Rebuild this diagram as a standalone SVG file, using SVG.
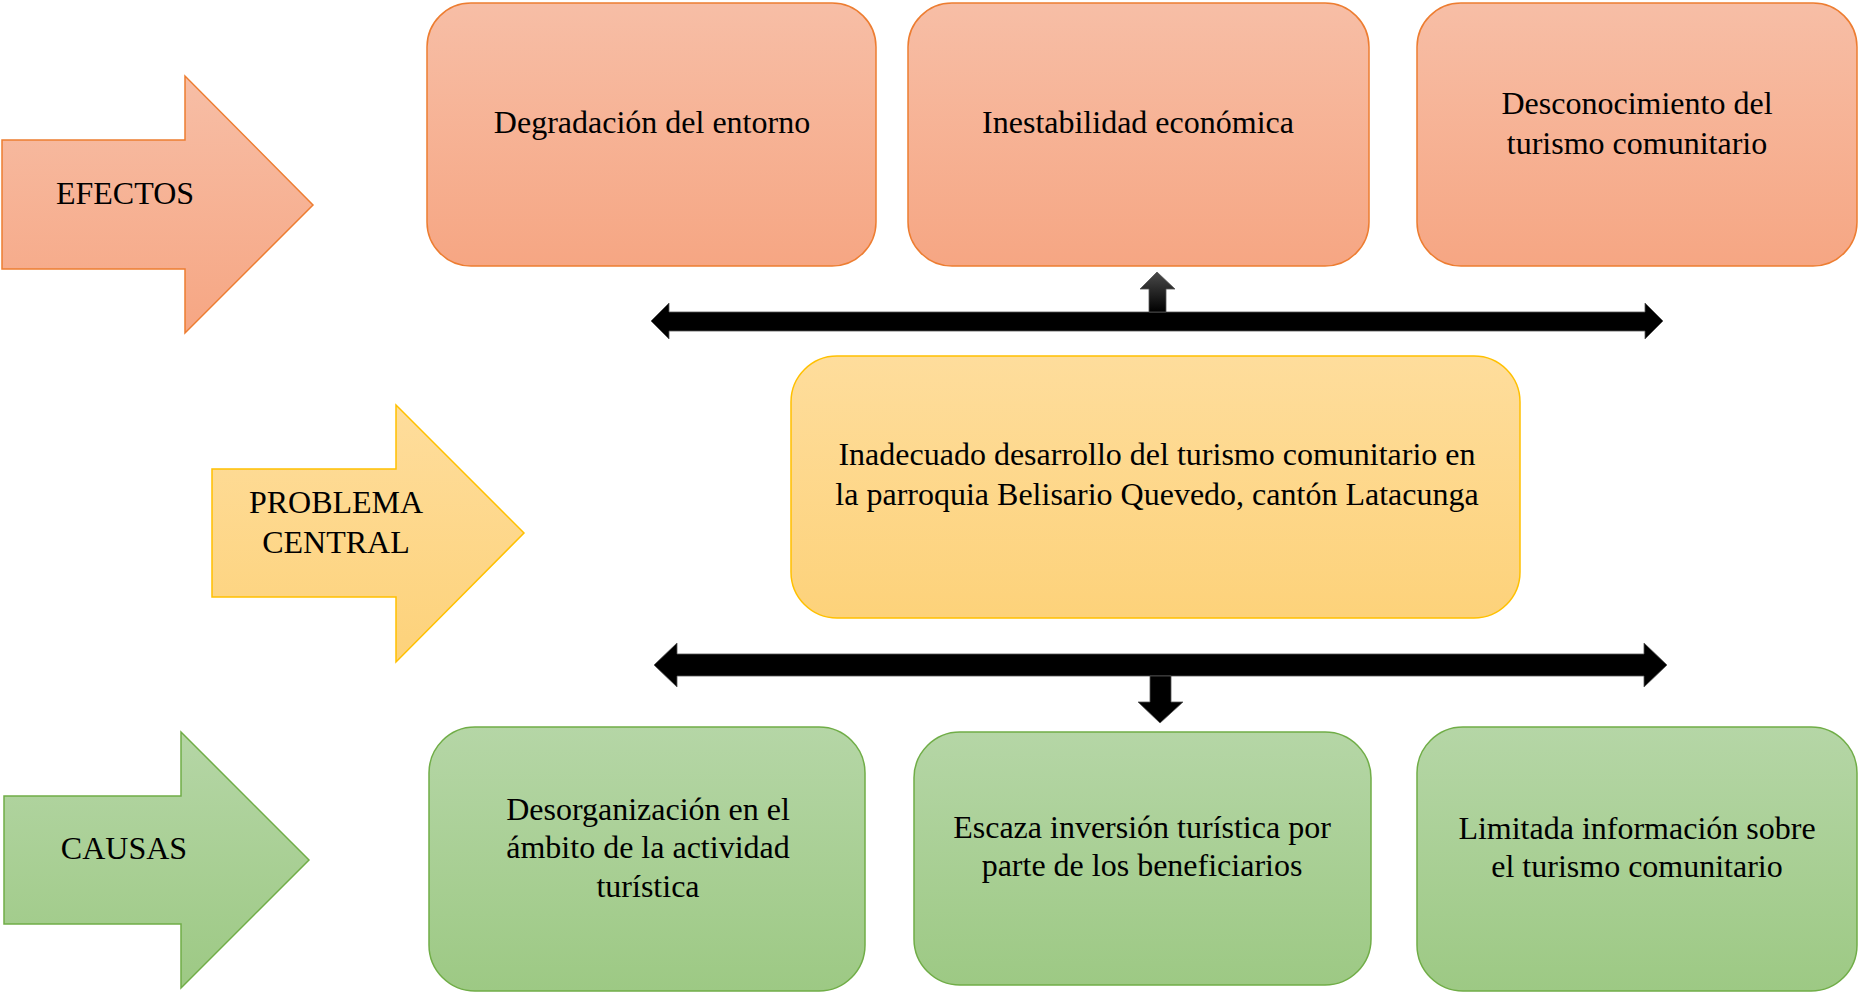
<svg xmlns="http://www.w3.org/2000/svg" width="1859" height="992" viewBox="0 0 1859 992">
<defs>
<linearGradient id="gOr" x1="0" y1="0" x2="0" y2="1"><stop offset="0" stop-color="#f7bea6"/><stop offset="1" stop-color="#f6a683"/></linearGradient>
<linearGradient id="gYe" x1="0" y1="0" x2="0" y2="1"><stop offset="0" stop-color="#fedd9c"/><stop offset="1" stop-color="#fdd27a"/></linearGradient>
<linearGradient id="gGr" x1="0" y1="0" x2="0" y2="1"><stop offset="0" stop-color="#b5d6a6"/><stop offset="1" stop-color="#9dc984"/></linearGradient>
<linearGradient id="gBk" x1="0" y1="0" x2="0" y2="1"><stop offset="0" stop-color="#4a4a4a"/><stop offset="1" stop-color="#000"/></linearGradient>
</defs>
<style>
.or{fill:url(#gOr);stroke:#ed7d31;stroke-width:1.5}
.ye{fill:url(#gYe);stroke:#ffc000;stroke-width:1.5}
.gr{fill:url(#gGr);stroke:#70ad47;stroke-width:1.5}
.t{font-family:"Liberation Serif","Times New Roman",serif;font-size:32px;fill:#000;text-anchor:middle}
.bk{fill:#000;stroke:#555;stroke-width:0.8}
</style>
<g id="arrow-efectos">
<polygon class="or" points="2,140 185,140 185,76 313,205 185,333 185,269 2,269"/>
<text class="t" x="125" y="204">EFECTOS</text>
</g>
<g id="arrow-problema">
<polygon class="ye" points="212,469 396,469 396,405 524,533 396,662 396,597 212,597"/>
<text class="t" x="336" y="513">PROBLEMA</text>
<text class="t" x="336" y="553">CENTRAL</text>
</g>
<g id="arrow-causas">
<polygon class="gr" points="4,796 181,796 181,732 309,860 181,988 181,924 4,924"/>
<text class="t" x="124" y="859">CAUSAS</text>
</g>
<g id="efecto-1">
<rect class="or" x="427" y="3" width="449" height="263" rx="44"/>
<text class="t" x="652" y="133">Degradación del entorno</text>
</g>
<g id="efecto-2">
<rect class="or" x="908" y="3" width="461" height="263" rx="44"/>
<text class="t" x="1138" y="133">Inestabilidad económica</text>
</g>
<g id="efecto-3">
<rect class="or" x="1417" y="3" width="440" height="263" rx="44"/>
<text class="t" x="1637" y="114">Desconocimiento del</text>
<text class="t" x="1637" y="154">turismo comunitario</text>
</g>
<g id="problema">
<rect class="ye" x="791" y="356" width="729" height="262" rx="46"/>
<text class="t" x="1157" y="465">Inadecuado desarrollo del turismo comunitario en</text>
<text class="t" x="1157" y="505">la parroquia Belisario Quevedo, cantón Latacunga</text>
</g>
<g id="causa-1">
<rect class="gr" x="429" y="727" width="436" height="264" rx="46"/>
<text class="t" x="648" y="820">Desorganización en el</text>
<text class="t" x="648" y="858">ámbito de la actividad</text>
<text class="t" x="648" y="897">turística</text>
</g>
<g id="causa-2">
<rect class="gr" x="914" y="732" width="457" height="253" rx="46"/>
<text class="t" x="1142" y="838">Escaza inversión turística por</text>
<text class="t" x="1142" y="876">parte de los beneficiarios</text>
</g>
<g id="causa-3">
<rect class="gr" x="1417" y="727" width="440" height="264" rx="46"/>
<text class="t" x="1637" y="839">Limitada información sobre</text>
<text class="t" x="1637" y="877">el turismo comunitario</text>
</g>
<g id="connectors">
<polygon class="bk" points="651,321 669,303 669,312 1645,312 1645,303 1663,321 1645,339 1645,331 669,331 669,339"/>
<polygon fill="url(#gBk)" stroke="#555" stroke-width="0.8" points="1149,312 1149,289 1140,289 1157,272 1175,289 1166,289 1166,312"/>
<polygon class="bk" points="654,665 677,643 677,654 1644,654 1644,643 1667,665 1644,687 1644,676 677,676 677,687"/>
<polygon class="bk" points="1150,676 1171,676 1171,702 1183,702 1160,723 1138,702 1150,702"/>
</g>
</svg>
